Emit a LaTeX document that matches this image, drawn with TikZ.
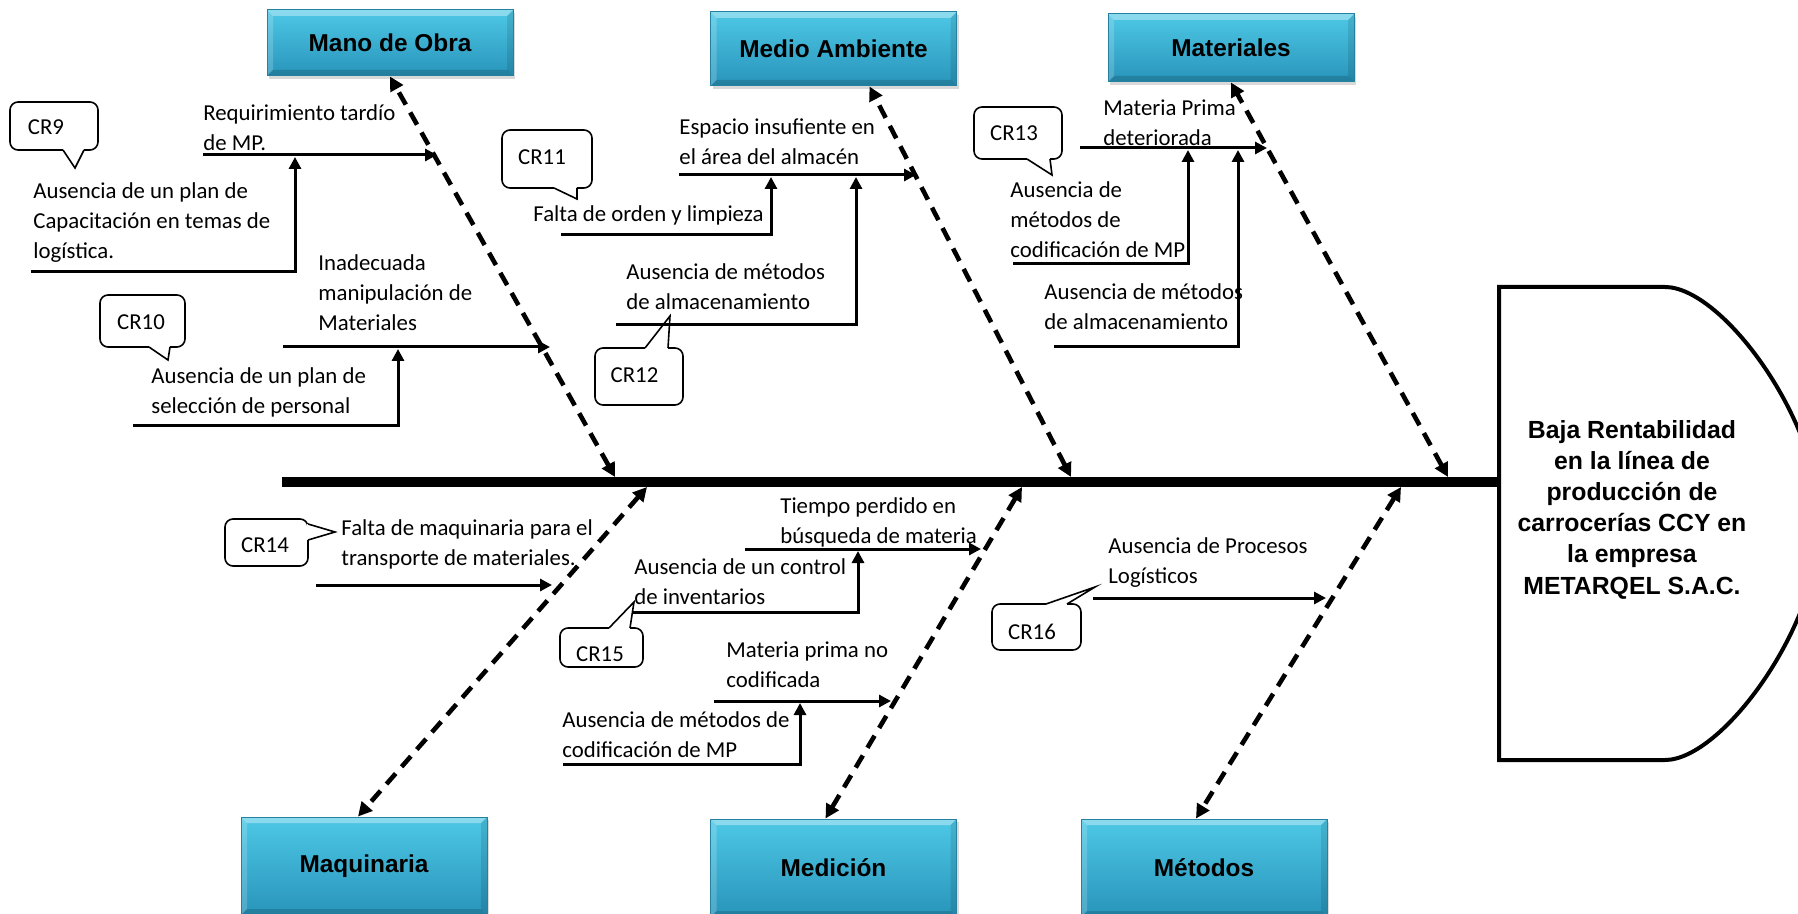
\documentclass[tikz,border=0pt]{standalone}
\usepackage{fontspec}
\setmainfont{Carlito}
\newfontfamily\titlefont{Liberation Sans}
\usetikzlibrary{arrows.meta,shadows}

\definecolor{boxtop}{RGB}{78,200,230}
\definecolor{boxbot}{RGB}{40,148,186}
\definecolor{boxedge}{RGB}{38,128,160}

\tikzset{
  catbox/.style={minimum width=123pt, minimum height=#1, inner sep=0pt,
    top color=boxtop, bottom color=boxbot, draw=boxedge, line width=0.5pt,
    font=\titlefont\bfseries\fontsize{12.2}{14}\selectfont,
    drop shadow={shadow xshift=1pt, shadow yshift=-1.5pt, opacity=0.3},
    path picture={
      \path (path picture bounding box.north west) coordinate (bnw)
            (path picture bounding box.north east) coordinate (bne)
            (path picture bounding box.south west) coordinate (bsw)
            (path picture bounding box.south east) coordinate (bse);
      \fill[white,opacity=0.35] (bnw) -- (bne) -- ([shift={(-3pt,-3pt)}]bne) -- ([shift={(3pt,-3pt)}]bnw) -- cycle;
      \fill[white,opacity=0.18] (bnw) -- ([shift={(3pt,-3pt)}]bnw) -- ([shift={(3pt,3pt)}]bsw) -- (bsw) -- cycle;
      \fill[black,opacity=0.15] (bsw) -- (bse) -- ([shift={(-3pt,3pt)}]bse) -- ([shift={(3pt,3pt)}]bsw) -- cycle;
      \fill[black,opacity=0.10] (bse) -- (bne) -- ([shift={(-3pt,-3pt)}]bne) -- ([shift={(-3pt,3pt)}]bse) -- cycle;
    }},
  cbox/.style={draw, line width=0.8pt, rounded corners=4pt, fill=white, inner sep=0pt},
  cline/.style={line width=0.8pt, line join=miter},
  ctext/.style={inner sep=0pt, font=\fontsize{11.4}{14}\selectfont},
  cause/.style={anchor=west, align=left, inner sep=0pt, font=\fontsize{11.4}{15}\selectfont},
  branch/.style={line width=1.5pt, -{Triangle[length=6pt,width=6pt]}},
  bone/.style={line width=2.3pt, dash pattern=on 7pt off 4.5pt,
    {Triangle[length=7pt,width=7pt]}-{Triangle[length=7pt,width=7pt]}},
  spine/.style={line width=5pt},
  headtext/.style={align=center, inner sep=0pt,
    font=\titlefont\bfseries\fontsize{12.4}{15.6}\selectfont}
}

% pointer of a speech bubble: base point, tip, base point
\newcommand\callptr[3]{%
  \draw[white,line width=1.4pt] #1 -- #3;
  \draw[cline] #1 -- #2 -- #3;}

\begin{document}
\begin{tikzpicture}[x=0.5pt,y=-0.5pt]
\useasboundingbox (0,0) rectangle (1798,914);
\clip (0,0) rectangle (1798,914);

% ---------- effect (fish head) and spine ----------
\draw[line width=2pt] (1499,287) -- (1665,287)
  .. controls (1722,287) and (1820,420) .. (1820,523)
  .. controls (1820,626) and (1722,760) .. (1665,760)
  -- (1499,760) -- cycle;
\node[headtext] (effect) at (1632,509.5)
  {Baja Rentabilidad\\en la línea de\\producción de\\carrocerías CCY en\\la empresa\\METARQEL S.A.C.};

\coordinate (tail) at (282,482);
\coordinate (neck) at (1499,482);
\draw[spine] (tail) -- (neck);

% ---------- category boxes ----------
\node[catbox=33pt] (mo) at (390,43) {Mano de Obra};
\node[catbox=37pt] (ma) at (833.5,49) {Medio Ambiente};
\node[catbox=34pt] (mt) at (1231,48) {Materiales};
\node[catbox=49pt] (mq) at (364,866) {Maquinaria};
\node[catbox=49pt] (me) at (833.5,868) {Medición};
\node[catbox=49pt] (md) at (1204,868) {Métodos};

% ---------- main bones ----------
\coordinate (s-mo) at (615,477);
\coordinate (s-ma) at (1071,477);
\coordinate (s-mt) at (1448,477);
\coordinate (s-mq) at (647,487);
\coordinate (s-me) at (1022,487);
\coordinate (s-md) at (1401,487);
\draw[bone] (s-mo) -- (mo.south);
\draw[bone] (s-ma) -- ([xshift=18pt]ma.south);
\draw[bone] (s-mt) -- (mt.south);
\draw[bone] (s-mq) -- ([xshift=-3pt]mq.north);
\draw[bone] (s-me) -- ([xshift=-4pt]me.north);
\draw[bone] (s-md) -- ([xshift=-4pt]md.north);

% ---------- Mano de Obra ----------
\coordinate (a1) at (203,155);  \coordinate (b1) at (437,155);
\coordinate (a2) at (31,272);   \coordinate (b2) at (295,157);
\coordinate (a3) at (283,347);  \coordinate (b3) at (550,347);
\coordinate (a4) at (133,425);  \coordinate (b4) at (398,349);
\draw[branch] (a1) -- (b1);
\draw[branch] (a2) -| (b2);
\draw[branch] (a3) -- (b3);
\draw[branch] (a4) -| (b4);
\node[cause] (t1) at (203,128) {Requirimiento tardío\\de MP.};
\node[cause] (t2) at (33,222.5) {Ausencia de un plan de\\Capacitación en temas de\\logística.};
\node[cause] (t3) at (318,293) {Inadecuada\\manipulación de\\Materiales};
\node[cause] (t4) at (151,392) {Ausencia de un plan de\\selección de personal};

% ---------- Medio Ambiente ----------
\coordinate (a5) at (679,175);  \coordinate (b5) at (916,175);
\coordinate (a6) at (561,235);  \coordinate (b6) at (771,177);
\coordinate (a7) at (616,325);  \coordinate (b7) at (856,177);
\draw[branch] (a5) -- (b5);
\draw[branch] (a6) -| (b6);
\draw[branch] (a7) -| (b7);
\node[cause] (t5) at (679,142) {Espacio insufiente en\\el área del almacén};
\node[cause] (t6) at (533,215) {Falta de orden y limpieza};
\node[cause] (t7) at (626,287) {Ausencia de métodos\\de almacenamiento};

% ---------- Materiales ----------
\coordinate (a8) at (1080,148);  \coordinate (b8) at (1267,148);
\coordinate (a9) at (1013,264);  \coordinate (b9) at (1188,150);
\coordinate (a10) at (1054,347); \coordinate (b10) at (1238,150);
\draw[branch] (a8) -- (b8);
\draw[branch] (a9) -| (b9);
\draw[branch] (a10) -| (b10);
\node[cause] (t8) at (1103,123) {Materia Prima\\deteriorada};
\node[cause] (t9) at (1010,220) {Ausencia de\\métodos de\\codificación de MP};
\node[cause] (t10) at (1044,307) {Ausencia de métodos\\de almacenamiento};

% ---------- Maquinaria ----------
\coordinate (a11) at (316,585); \coordinate (b11) at (552,585);
\draw[branch] (a11) -- (b11);
\node[cause] (t11) at (341,544) {Falta de maquinaria para el\\transporte de materiales.};

% ---------- Medición ----------
\coordinate (a12) at (745,549); \coordinate (b12) at (981,549);
\coordinate (a13) at (632,612); \coordinate (b13) at (858,551);
\coordinate (a14) at (714,701); \coordinate (b14) at (891,701);
\coordinate (a15) at (563,764); \coordinate (b15) at (800,703);
\draw[branch] (a12) -- (b12);
\draw[branch] (a13) -| (b13);
\draw[branch] (a14) -- (b14);
\draw[branch] (a15) -| (b15);
\node[cause] (t12) at (780,522) {Tiempo perdido en\\búsqueda de materia};
\node[cause] (t13) at (634,582) {Ausencia de un control\\de inventarios};
\node[cause] (t14) at (726,665) {Materia prima no\\codificada};
\node[cause] (t15) at (562,735) {Ausencia de métodos de\\codificación de MP};

% ---------- Métodos ----------
\coordinate (a16) at (1093,598); \coordinate (b16) at (1326,598);
\draw[branch] (a16) -- (b16);
\node[cause] (t16) at (1108,563) {Ausencia de Procesos\\Logísticos};

% ---------- speech bubbles ----------
\node[cbox, minimum width=44pt, minimum height=24pt] (cr9) at (54,126) {};
\callptr{(63,150)}{(75,168)}{(84,150)}
\node[ctext] (cr9t) at (46,127) {CR9};

\node[cbox, minimum width=42.5pt, minimum height=26pt] (cr10) at (142.5,321) {};
\callptr{(149,347)}{(168,360)}{(170,347)}
\node[ctext] (cr10t) at (141,322) {CR10};

\node[cbox, minimum width=45pt, minimum height=29pt] (cr11) at (547,159) {};
\callptr{(554,188)}{(577,199)}{(577,188)}
\node[ctext] (cr11t) at (542,157) {CR11};

\node[cbox, minimum width=44pt, minimum height=28.5pt] (cr12) at (639,376.5) {};
\callptr{(645,348)}{(670,316)}{(668,348)}
\node[ctext] (cr12t) at (634.5,375) {CR12};

\node[cbox, minimum width=44pt, minimum height=26pt] (cr13) at (1018,133) {};
\callptr{(1027,159)}{(1052,175)}{(1050,159)}
\node[ctext] (cr13t) at (1014,133) {CR13};

\node[cbox, minimum width=41.5pt, minimum height=23.5pt] (cr14) at (266.5,542.5) {};
\callptr{(308,524)}{(335,532)}{(308,540)}
\node[ctext] (cr14t) at (265,545) {CR14};

\node[cbox, minimum width=41.5pt, minimum height=19.5pt] (cr15) at (601.5,647.5) {};
\callptr{(609,628)}{(634,602)}{(630,628)}
\node[ctext] (cr15t) at (600,654) {CR15};

\node[cbox, minimum width=44.5pt, minimum height=23pt] (cr16) at (1036.5,627) {};
\callptr{(1046,604)}{(1095,587)}{(1067,604)}
\node[ctext] (cr16t) at (1032,632) {CR16};

\end{tikzpicture}
\end{document}
